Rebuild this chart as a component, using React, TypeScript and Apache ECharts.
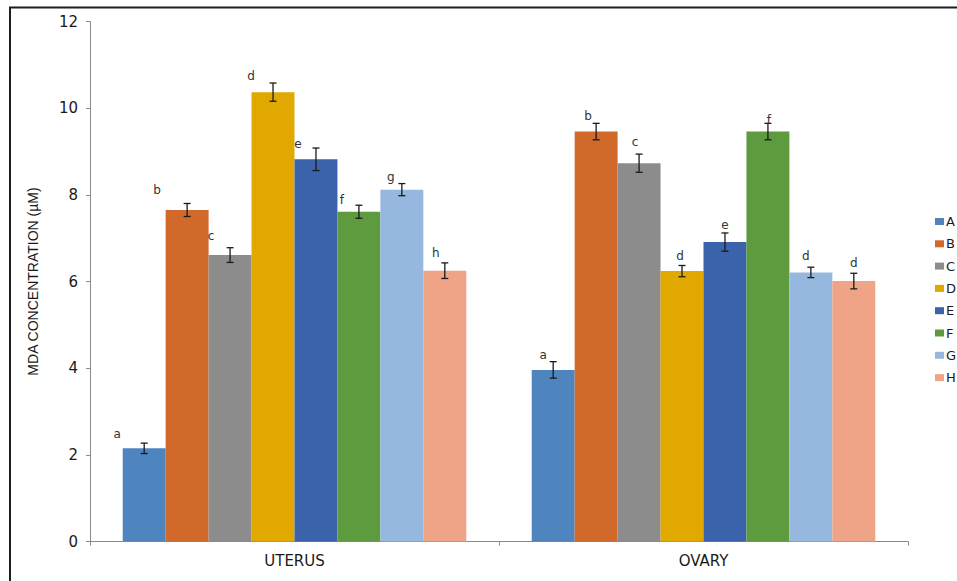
import React, { useEffect, useRef } from "react";
import * as echarts from "echarts";

// Tissue categories on the x axis
const CATEGORIES = ["UTERUS", "OVARY"];

// Treatment groups (one bar series each)
const GROUPS = ["A", "B", "C", "D", "E", "F", "G", "H"];

// Mean MDA concentration (µM) per group: [UTERUS, OVARY]
const MEAN_A = [2.15, 3.96];
const MEAN_B = [7.65, 9.46];
const MEAN_C = [6.61, 8.73];
const MEAN_D = [10.37, 6.24];
const MEAN_E = [8.82, 6.91];
const MEAN_F = [7.61, 9.46];
const MEAN_G = [8.12, 6.21];
const MEAN_H = [6.25, 6.01];

// Error (± SE) per group: [UTERUS, OVARY]
const ERR_A = [0.12, 0.19];
const ERR_B = [0.15, 0.19];
const ERR_C = [0.17, 0.21];
const ERR_D = [0.21, 0.13];
const ERR_E = [0.26, 0.21];
const ERR_F = [0.15, 0.19];
const ERR_G = [0.14, 0.12];
const ERR_H = [0.18, 0.18];

// Significance letters per category, in group order A..H
const LETTERS_UTERUS = ["a", "b", "c", "d", "e", "f", "g", "h"];
const LETTERS_OVARY = ["a", "b", "c", "d", "e", "f", "d", "d"];

// Y-axis ticks
const Y_MIN = 0;
const Y_MAX = 12;
const Y_STEP = 2;

const MEANS = [MEAN_A, MEAN_B, MEAN_C, MEAN_D, MEAN_E, MEAN_F, MEAN_G, MEAN_H];
const ERRS = [ERR_A, ERR_B, ERR_C, ERR_D, ERR_E, ERR_F, ERR_G, ERR_H];
const LETTERS = [LETTERS_UTERUS, LETTERS_OVARY];

// Layout / styling
const COLORS = [
  "#4f85bf",
  "#d1692a",
  "#8c8c8c",
  "#e1a800",
  "#3a63ab",
  "#5e9a3e",
  "#96b8de",
  "#efa488",
];
const BAR_CATEGORY_GAP = 0.16;
// Letter label offsets [dx, dy] (px) from the top of each error bar
const NUDGE: number[][][] = [
  [[-27, -9], [-30, -14], [-19, -12], [-22, -7], [-18, -4], [-17, -5], [-11, -7], [-9, -10]],
  [[-10, -7], [-8, -7], [-4, -12], [-2, -9], [0, -8], [1, -3], [-5, -11], [0, -10]],
];

const AXIS_GRAY = "#8a8a8a";
const TEXT = "#1a1a1a";

export default function App() {
  const ref = useRef<HTMLDivElement>(null);

  useEffect(() => {
    if (!ref.current) return;
    const chart = echarts.init(ref.current, undefined, { renderer: "svg" });

    const barSeries = GROUPS.map((g, gi) => ({
      name: g,
      type: "bar",
      data: MEANS[gi],
      barGap: "0%",
      barCategoryGap: `${BAR_CATEGORY_GAP * 100}%`,
      itemStyle: { color: COLORS[gi] },
      emphasis: { disabled: true },
      z: 2,
    }));

    // [categoryIndex, mean, error, groupIndex]
    const errData: number[][] = [];
    CATEGORIES.forEach((_, ci) => {
      GROUPS.forEach((_, gi) => {
        errData.push([ci, MEANS[gi][ci], ERRS[gi][ci], gi]);
      });
    });

    const errorSeries = {
      type: "custom",
      name: "err",
      data: errData,
      encode: { x: 0, y: 1 },
      clip: false,
      z: 5,
      silent: true,
      renderItem: (params: any, api: any) => {
        const ci = api.value(0);
        const v = api.value(1);
        const e = api.value(2);
        const gi = api.value(3);
        const center = api.coord([ci, v]);
        const band = api.size([1, 0])[0];
        const barW = (band * (1 - BAR_CATEGORY_GAP)) / GROUPS.length;
        const x = center[0] + (gi - (GROUPS.length - 1) / 2) * barW;
        const yTop = api.coord([ci, v + e])[1];
        const yBot = api.coord([ci, v - e])[1];
        const cap = 3.5;
        const lineStyle = { stroke: TEXT, lineWidth: 1.3 };
        const nudge = NUDGE[ci][gi];
        return {
          type: "group",
          children: [
            { type: "line", shape: { x1: x, y1: yTop, x2: x, y2: yBot }, style: lineStyle },
            { type: "line", shape: { x1: x - cap, y1: yTop, x2: x + cap, y2: yTop }, style: lineStyle },
            { type: "line", shape: { x1: x - cap, y1: yBot, x2: x + cap, y2: yBot }, style: lineStyle },
            {
              type: "text",
              x: x + nudge[0],
              y: yTop + nudge[1],
              style: {
                text: LETTERS[ci][gi],
                fill: "#333",
                fontSize: 12,
                fontFamily: "DejaVu Sans",
                align: "center",
                verticalAlign: "middle",
              },
            },
          ],
        };
      },
    };

    chart.setOption({
      animation: false,
      backgroundColor: "#ffffff",
      grid: { left: 90, right: 49, top: 21.5, bottom: 39.5 },
      legend: {
        data: GROUPS,
        orient: "vertical",
        left: 930,
        top: 209,
        icon: "rect",
        itemWidth: 9,
        itemHeight: 7,
        itemGap: 7.3,
        itemStyle: { borderWidth: 0 },
        textStyle: {
          fontFamily: "DejaVu Sans",
          fontSize: 13,
          lineHeight: 15,
          color: TEXT,
          padding: [0, 0, 0, -3],
        },
        selectedMode: false,
      },
      xAxis: {
        type: "category",
        data: CATEGORIES,
        axisLine: { lineStyle: { color: AXIS_GRAY, width: 1 } },
        axisTick: { show: true, length: 4, alignWithLabel: false, lineStyle: { color: AXIS_GRAY } },
        axisLabel: {
          color: TEXT,
          fontFamily: "DejaVu Sans",
          fontSize: 15,
          margin: 12,
        },
        splitLine: { show: false },
      },
      yAxis: {
        type: "value",
        min: Y_MIN,
        max: Y_MAX,
        interval: Y_STEP,
        name: "MDA CONCENTRATION (µM)",
        nameLocation: "middle",
        nameRotate: 90,
        nameGap: 50,
        nameTextStyle: {
          fontFamily: "Liberation Sans",
          fontSize: 14,
          color: TEXT,
        },
        axisLine: { show: true, lineStyle: { color: AXIS_GRAY, width: 1 } },
        axisTick: { show: true, length: 4, lineStyle: { color: AXIS_GRAY } },
        axisLabel: {
          color: TEXT,
          fontFamily: "DejaVu Sans",
          fontSize: 15,
          margin: 12,
        },
        splitLine: { show: false },
      },
      graphic: [
        {
          type: "rect",
          silent: true,
          shape: { x: 10, y: 7.5, width: 1000, height: 640 },
          style: { fill: "none", stroke: "#1e1e1e", lineWidth: 2 },
          z: 10,
        },
      ],
      series: [...barSeries, errorSeries],
    });

    return () => chart.dispose();
  }, []);

  return (
    <div
      ref={ref}
      style={{ position: "fixed", left: 0, top: 0, width: 957, height: 581 }}
    />
  );
}
